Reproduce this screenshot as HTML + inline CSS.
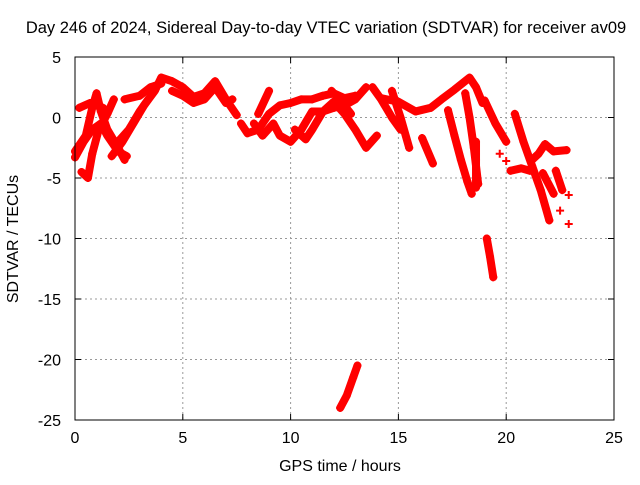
<!DOCTYPE html>
<html><head><meta charset="utf-8"><style>
body{margin:0;background:#fff}
svg text{font-family:"Liberation Sans",sans-serif;font-size:16px;fill:#000}
</style></head><body>
<svg id="chart" width="640" height="480" xmlns="http://www.w3.org/2000/svg">
<rect width="640" height="480" fill="#fff"/>
<text x="326" y="33" text-anchor="middle" style="font-size:16.5px">Day 246 of 2024, Sidereal Day-to-day VTEC variation (SDTVAR) for receiver av09</text>
<text x="340" y="471" text-anchor="middle">GPS time / hours</text>
<text transform="translate(18,239) rotate(-90)" text-anchor="middle">SDTVAR / TECUs</text>
<g id="grid"></g>
<g id="marks"></g>
<rect x="75" y="57" width="539" height="363" fill="none" stroke="#000" stroke-width="1"/>
<g id="ticks"></g>
</svg>
<script>
const xTicks=[0,5,10,15,20,25];
const yTicks=[5,0,-5,-10,-15,-20,-25];
const tracks=[
[[0,-3.3],[0.4,-2],[0.8,-1],[1.2,-0.5],[1.5,-1.5],[2,-2.8],[2.4,-3.2]],
[[0,-2.8],[0.5,-1.5],[0.8,0.8],[1,2],[1.2,0.5],[1.5,-1],[2,-2.5],[2.3,-3.5]],
[[0.3,-4.5],[0.6,-5],[0.8,-3],[1.1,-1],[1.5,0.3],[1.8,1.5]],
[[1.7,-3.2],[2.2,-2],[2.7,-0.5],[3.2,1],[3.7,2.2],[4,3.3],[4.5,3],[5,2.5],[5.5,1.7],[6,2],[6.5,3],[7,1.5],[7.5,0.2]],
[[0.2,0.8],[0.7,1.2],[1.3,0.8]],
[[2.3,1.5],[3,1.8],[3.5,2.5],[4,2.8]],
[[4.5,2.2],[5,1.8],[5.5,1.2],[6,1.5],[6.5,2.5],[7,1.2],[7.3,1.5]],
[[2,-2],[2.5,-1],[3,0.5],[3.4,1.5]],
[[7.7,-0.5],[8,-1.3],[8.5,-1],[9,0.3],[9.5,1],[10,1.2],[10.5,1.5],[11,1.5],[11.5,1.8],[12,2],[12.5,1.6],[13,1.8]],
[[8.3,-0.5],[8.7,-1.5],[9.2,-0.5],[9.5,-1.5],[10,-2],[10.5,-1],[11,0.5],[11.5,0.5],[12,0.8],[12.5,1],[13,1.5],[13.5,2.5]],
[[8.5,0.3],[9,2.2]],
[[10.2,-1],[10.7,-1.8],[11,-1],[11.5,0.5],[12,1.3],[12.5,0.3],[13,-1],[13.5,-2.5],[14,-1.5]],
[[12.3,-24],[12.6,-23],[12.9,-21.5],[13.1,-20.5]],
[[11.9,2.2],[12.4,1.2],[12.8,0.3]],
[[13.8,2.5],[14.2,1.5],[14.7,0],[15.1,-1]],
[[14.7,2.2],[15.1,0],[15.5,-2.5]],
[[16.1,-1.7],[16.6,-3.8]],
[[14.2,1.6],[15,1.3],[15.8,0.5],[16.5,0.8],[17,1.5],[17.6,2.3],[18.3,3.3],[18.6,2.5],[18.9,1.2]],
[[17.3,0.6],[17.6,-1.5],[17.9,-3.5],[18.2,-5.3],[18.4,-6.3]],
[[18.1,2],[18.3,0],[18.5,-2.5],[18.7,-5.5]],
[[18.6,-2],[18.6,-3.5],[18.6,-5.8]],
[[19,1.4],[19.5,-0.5],[20,-2]],
[[20.4,0.3],[20.8,-2],[21.2,-4],[21.6,-6],[22,-8.5]],
[[20.2,-4.4],[20.7,-4.2],[21.1,-4.4]],
[[21.2,-3.5],[21.5,-3],[21.8,-2.2],[22.2,-2.8],[22.8,-2.7]],
[[21.7,-4.6],[22.2,-6.3]],
[[22.3,-4.4],[22.6,-6]],
[[19.1,-10],[19.25,-11.5],[19.4,-13.2]],
[[19.7,-3]],[[20,-3.6]],[[22.5,-7.7]],[[22.9,-8.8]],[[22.9,-6.4]]
];
const X=t=>75+t*539/25, Y=v=>57+(5-v)*363/30;
const NS="http://www.w3.org/2000/svg";
const grid=document.getElementById('grid'),ticks=document.getElementById('ticks'),marks=document.getElementById('marks');
function mk(tag,attrs,parent){const e=document.createElementNS(NS,tag);for(const k in attrs)e.setAttribute(k,attrs[k]);parent.appendChild(e);return e;}
xTicks.forEach(t=>{
 if(t>0&&t<25){const g=mk('line',{x1:X(t),x2:X(t),y1:57,y2:420,stroke:'#999','stroke-dasharray':'2,3'},grid);
 
 }
 mk('line',{x1:X(t),x2:X(t),y1:420,y2:414,stroke:'#000'},ticks);
 mk('line',{x1:X(t),x2:X(t),y1:57,y2:63,stroke:'#000'},ticks);
 const l=mk('text',{x:X(t),y:443,'text-anchor':'middle'},ticks);l.textContent=t;
 
 
});
yTicks.forEach(v=>{
 if(v<5&&v>-25){const g=mk('line',{x1:75,x2:614,y1:Y(v),y2:Y(v),stroke:'#999','stroke-dasharray':'2,3'},grid);
 
 }
 mk('line',{x1:75,x2:81,y1:Y(v),y2:Y(v),stroke:'#000'},ticks);
 mk('line',{x1:608,x2:614,y1:Y(v),y2:Y(v),stroke:'#000'},ticks);
 const l=mk('text',{x:61,y:Y(v)+6,'text-anchor':'end'},ticks);l.textContent=v;
 
 
});
tracks.forEach(tr=>{
 if(tr.length>1){
 const p=mk('polyline',{points:tr.map(d=>X(d[0])+','+Y(d[1])).join(' '),fill:'none',stroke:'#f00','stroke-width':8,'stroke-linejoin':'round','stroke-linecap':'round'},marks);
 
 
 }
 tr.forEach(d=>{
  const m=mk('path',{d:`M${X(d[0])-4},${Y(d[1])}h8M${X(d[0])},${Y(d[1])-4}v8`,stroke:'#f00','stroke-width':2},marks);
  
  
 });
});
</script>
</body></html>
